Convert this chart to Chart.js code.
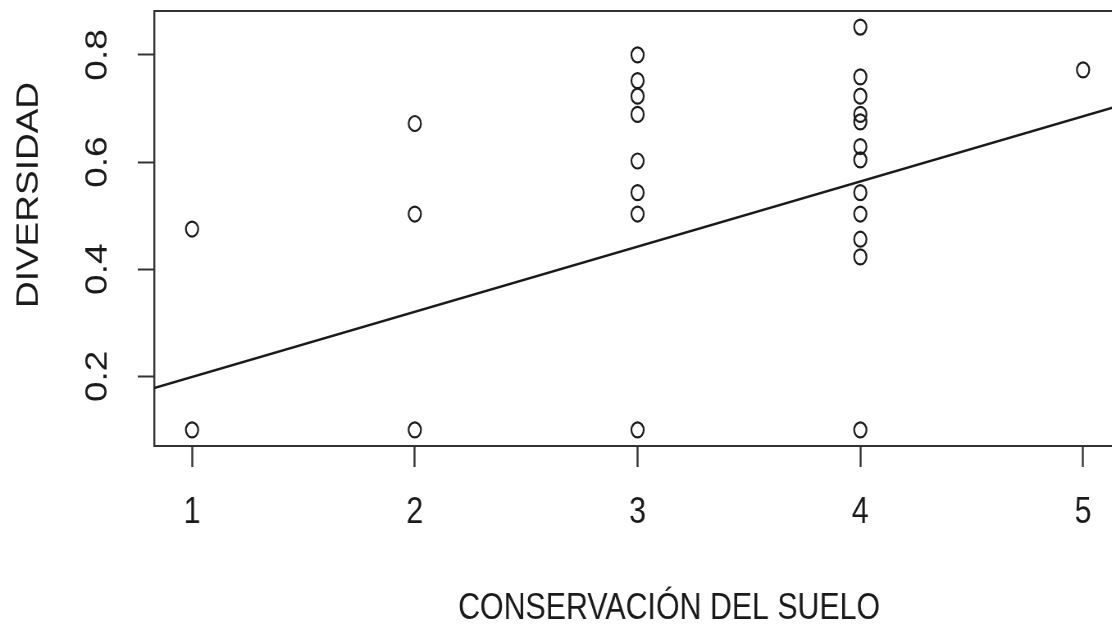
<!DOCTYPE html>
<html lang="es">
<head>
    <meta charset="UTF-8">
    <title>Diversidad vs conservación del suelo</title>
    <script src="https://cdn.jsdelivr.net/npm/chart.js"></script>
    <style>
        html, body { margin: 0; padding: 0; background: #fff; overflow: hidden; }
        /* la figura original está comprimida en horizontal */
        #wrap { width: 1400px; height: 624px; transform: scaleX(0.82); transform-origin: 0 0; }
    </style>
</head>
<body>
    <div id="wrap"><canvas id="chart"></canvas></div>

    <script>
        // datos
        const xTicks = [1, 2, 3, 4, 5];
        const yTicks = [0.2, 0.4, 0.6, 0.8];
        const conservacion = [
            1, 1,
            2, 2, 2,
            3, 3, 3, 3, 3, 3, 3, 3,
            4, 4, 4, 4, 4, 4, 4, 4, 4, 4, 4, 4,
            5
        ];
        const diversidad = [
            0.475, 0.10,
            0.672, 0.503, 0.10,
            0.80, 0.752, 0.723, 0.689, 0.602, 0.543, 0.503, 0.10,
            0.852, 0.759, 0.723, 0.689, 0.675, 0.629, 0.604, 0.543, 0.503, 0.456, 0.423, 0.10,
            0.772
        ];
        const ajusteX = [0.83, 5.17];
        const ajusteY = [0.178, 0.706];

        const xTitle = "CONSERVACIÓN DEL SUELO";
        const yTitle = "DIVERSIDAD";

        const ink = "#1a1a1a";
        const font = "'Liberation Sans', Arial, sans-serif";

        // títulos de ejes y borde superior/derecho, como en R
        const rFrame = {
            id: "rFrame",
            afterDraw(chart) {
                const ctx = chart.ctx;
                const a = chart.chartArea;
                ctx.save();
                ctx.strokeStyle = "#333";
                ctx.lineWidth = 2;
                ctx.beginPath();
                ctx.moveTo(a.left, a.top);
                ctx.lineTo(a.right, a.top);
                ctx.lineTo(a.right, a.bottom);
                ctx.stroke();

                ctx.fillStyle = ink;
                ctx.font = "37px " + font;
                ctx.textAlign = "center";
                ctx.textBaseline = "alphabetic";
                ctx.fillText(xTitle, 816, 619);

                ctx.translate(46, 195);
                ctx.rotate(-Math.PI / 2);
                ctx.fillText(yTitle, 0, 0);
                ctx.restore();
            }
        };

        const points = conservacion.map((x, i) => ({ x: x, y: diversidad[i] }));
        const fit = ajusteX.map((x, i) => ({ x: x, y: ajusteY[i] }));

        function noPad(s) {
            s.paddingTop = 0;
            s.paddingBottom = 0;
            s.paddingLeft = 0;
            s.paddingRight = 0;
        }

        new Chart(document.getElementById("chart"), {
            type: "scatter",
            data: {
                datasets: [
                    {
                        data: points,
                        pointStyle: "circle",
                        pointRadius: 7.5,
                        borderWidth: 2.2,
                        borderColor: ink,
                        backgroundColor: "rgba(0,0,0,0)"
                    },
                    {
                        type: "line",
                        data: fit,
                        borderColor: ink,
                        borderWidth: 2.5,
                        pointRadius: 0,
                        fill: false
                    }
                ]
            },
            options: {
                responsive: true,
                maintainAspectRatio: false,
                animation: false,
                layout: { padding: { top: 11, right: 33, left: 0, bottom: 0 } },
                plugins: {
                    legend: { display: false },
                    tooltip: { enabled: false }
                },
                scales: {
                    x: {
                        type: "linear",
                        min: 0.83,
                        max: 5.17,
                        afterBuildTicks: (s) => { s.ticks = xTicks.map(v => ({ value: v })); },
                        afterFit: (s) => { s.height = 178; noPad(s); },
                        border: { display: true, color: "#333", width: 2 },
                        grid: { drawOnChartArea: false, drawTicks: true, tickLength: 21, tickWidth: 2.4, tickColor: "#333" },
                        ticks: { color: ink, font: { family: font, size: 37 }, padding: 24, maxRotation: 0 }
                    },
                    y: {
                        type: "linear",
                        min: 0.07,
                        max: 0.882,
                        afterBuildTicks: (s) => { s.ticks = yTicks.map(v => ({ value: v })); },
                        afterFit: (s) => { s.width = 188; noPad(s); },
                        border: { display: true, color: "#333", width: 2.4 },
                        grid: { drawOnChartArea: false, drawTicks: true, tickLength: 20, tickWidth: 2, tickColor: "#333" },
                        ticks: {
                            color: ink,
                            font: { family: font, size: 37 },
                            minRotation: 90,
                            maxRotation: 90,
                            crossAlign: "center",
                            padding: 22
                        }
                    }
                }
            },
            plugins: [rFrame]
        });
    </script>
</body>
</html>
